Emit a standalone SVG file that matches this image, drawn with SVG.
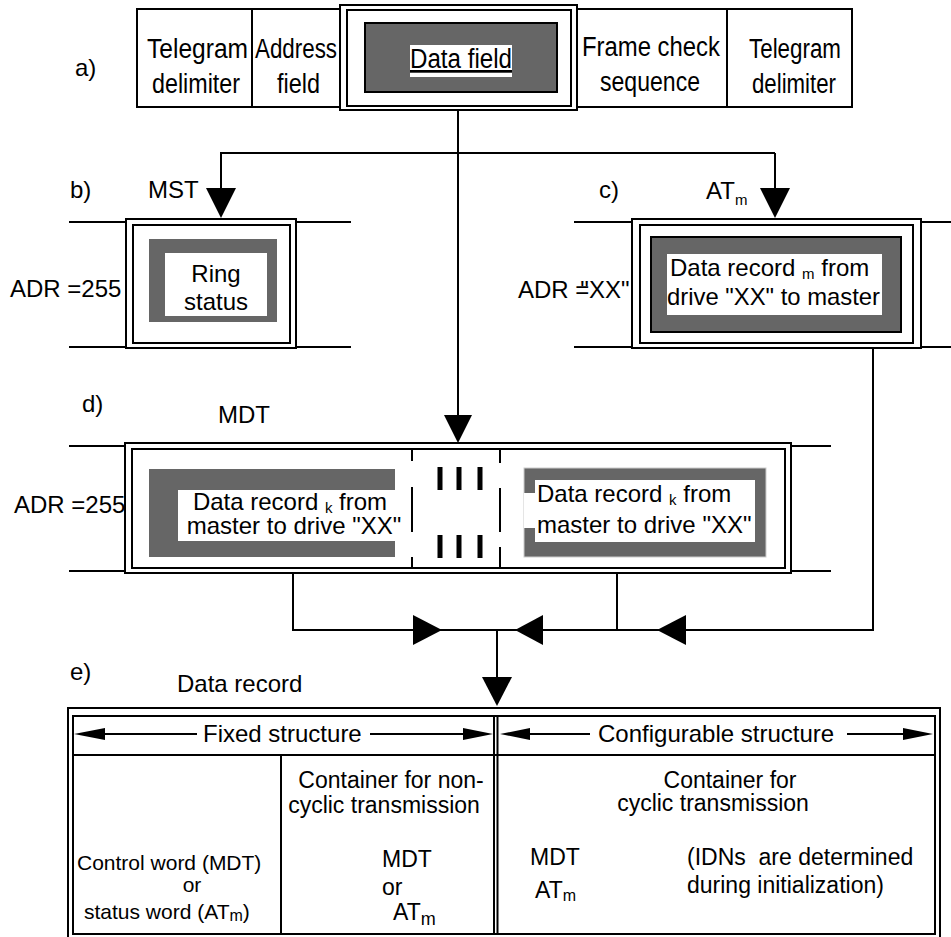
<svg xmlns="http://www.w3.org/2000/svg" width="951" height="937" viewBox="0 0 951 937">
<style>
text{font-family:"Liberation Sans",Arial,sans-serif;font-size:24px;fill:#000}
.m{text-anchor:middle}
.t{font-size:27px}
.sm{font-size:21px}
.b{font-size:23px}
.sub{font-size:15px}
.ln{stroke:#000;stroke-width:2;fill:none}
.fr{stroke:#000;stroke-width:2;fill:#fff}
.dk{fill:#666}
.wh{fill:#fff}
.ah{fill:#000}
</style>
<rect width="951" height="937" fill="#fff"/>

<g id="frameA">
<text x="75" y="76">a)</text>
<rect class="fr" x="137" y="9" width="715" height="98"/>
<line class="ln" x1="252" y1="9" x2="252" y2="107"/>
<line class="ln" x1="727" y1="9" x2="727" y2="107"/>
<text class="t" x="147" y="58" textLength="101" lengthAdjust="spacingAndGlyphs">Telegram</text>
<text class="t" x="152" y="93" textLength="88" lengthAdjust="spacingAndGlyphs">delimiter</text>
<text class="t" x="255" y="58" textLength="82" lengthAdjust="spacingAndGlyphs">Address</text>
<text class="t" x="277" y="93" textLength="43" lengthAdjust="spacingAndGlyphs">field</text>
<text class="t" x="582" y="56" textLength="138" lengthAdjust="spacingAndGlyphs">Frame check</text>
<text class="t" x="600" y="91" textLength="100" lengthAdjust="spacingAndGlyphs">sequence</text>
<text class="t" x="749" y="58" textLength="92" lengthAdjust="spacingAndGlyphs">Telegram</text>
<text class="t" x="752" y="93" textLength="84" lengthAdjust="spacingAndGlyphs">delimiter</text>
</g>
<g id="dataField">
<rect class="fr" x="340" y="5" width="237" height="105"/>
<rect class="ln" x="347" y="10" width="224" height="96"/>
<rect class="dk" x="365" y="23" width="192" height="69" stroke="#000" stroke-width="2"/>
<rect class="wh" x="410" y="45" width="102" height="32"/>
<text class="t" x="410" y="68" textLength="102" lengthAdjust="spacingAndGlyphs" text-decoration="underline">Data field</text>
</g>

<g id="frameB">
<text x="70" y="198">b)</text>
<text x="148" y="198">MST</text>
<line class="ln" x1="69" y1="222" x2="351" y2="222"/>
<line class="ln" x1="69" y1="347" x2="351" y2="347"/>
<rect class="fr" x="126" y="219" width="170" height="129"/>
<rect class="ln" x="133" y="225" width="157" height="118"/>
<rect class="dk" x="149" y="239" width="128" height="83"/>
<rect class="wh" x="165" y="253" width="102" height="63"/>
<text class="m" x="216" y="282">Ring</text>
<text class="m" x="216" y="310">status</text>
<text x="10" y="297">ADR =255</text>
</g>

<g id="frameC">
<text x="599" y="198">c)</text>
<text x="706" y="199">AT<tspan class="sub" dy="6" font-size="17">m</tspan></text>
<line class="ln" x1="574" y1="222" x2="951" y2="222"/>
<line class="ln" x1="574" y1="347" x2="951" y2="347"/>
<rect class="fr" x="632" y="219" width="289" height="129"/>
<rect class="ln" x="640" y="225" width="273" height="118"/>
<rect class="dk" x="651" y="237" width="250" height="95" stroke="#000" stroke-width="2"/>
<rect class="wh" x="667" y="254" width="215" height="61"/>
<text x="670" y="276">Data record <tspan class="sub" dy="3">m</tspan><tspan dy="-3"> from</tspan></text>
<text x="667" y="305" textLength="213" lengthAdjust="spacingAndGlyphs">drive "XX" to master</text>
<text x="518" y="298">ADR =<tspan dx="-9">"XX"</tspan></text>
</g>

<g id="frameD">
<text x="82" y="412">d)</text>
<text x="218" y="423">MDT</text>
<line class="ln" x1="69" y1="446" x2="831" y2="446"/>
<line class="ln" x1="69" y1="571" x2="831" y2="571"/>
<rect class="fr" x="125" y="443" width="666" height="130"/>
<rect class="ln" x="132" y="449" width="653" height="119"/>
<path class="ln" d="M412 449V461M412 487V532M412 557V568M500 449V463M500 488V532M500 547V568"/>
<path stroke="#000" stroke-width="5" d="M440 467V490M459 467V490M480 467V490M440 535V558M459 535V558M480 535V558"/>
<rect class="dk" x="149" y="469" width="246" height="88"/>
<rect class="wh" x="178" y="490" width="217" height="51"/>
<text class="m" x="290" y="510">Data record <tspan class="sub" dy="3">k</tspan><tspan dy="-3"> from</tspan></text>
<text class="m" x="294" y="534">master to drive "XX"</text>
<rect class="dk" x="524" y="468" width="242" height="89" stroke="#ccc" stroke-width="1"/>
<rect class="wh" x="535" y="480" width="220" height="62"/>
<rect class="wh" x="524" y="493" width="12" height="35"/>
<text x="537" y="502">Data record <tspan class="sub" dy="3">k</tspan><tspan dy="-3"> from</tspan></text>
<text x="537" y="533">master to drive "XX"</text>
<text x="14" y="513">ADR =255</text>
</g>

<g id="tableE">
<text x="70" y="680">e)</text>
<text x="177" y="692">Data record</text>
<rect class="fr" x="68" y="708" width="872" height="240"/>
<rect class="ln" x="73" y="716" width="862" height="218"/>
<line class="ln" x1="73" y1="755" x2="935" y2="755"/>
<line class="ln" x1="494" y1="716" x2="494" y2="934"/>
<line class="ln" x1="497.5" y1="716" x2="497.5" y2="934"/>
<line class="ln" x1="281" y1="755" x2="281" y2="934"/>
<line class="ln" x1="100" y1="734" x2="197" y2="734"/>
<polygon class="ah" points="74,734 105,728 105,740"/>
<text x="203" y="742">Fixed structure</text>
<line class="ln" x1="370" y1="734" x2="465" y2="734"/>
<polygon class="ah" points="493,734 463,728 463,740"/>
<line class="ln" x1="525" y1="734" x2="590" y2="734"/>
<polygon class="ah" points="500,734 530,728 530,740"/>
<text x="598" y="742">Configurable structure</text>
<line class="ln" x1="847" y1="734" x2="906" y2="734"/>
<polygon class="ah" points="933,734 903,728 903,740"/>
<text class="sm" x="77" y="870">Control word (MDT)</text>
<text class="sm m" x="192" y="892">or</text>
<text class="sm" x="84" y="919">status word (AT<tspan font-size="16" dy="2">m</tspan><tspan dy="-2">)</tspan></text>
<text class="b m" x="391" y="788">Container for non-</text>
<text class="b m" x="384" y="813">cyclic transmission</text>
<text class="b m" x="407" y="867">MDT</text>
<text class="b" x="382" y="895">or</text>
<text class="b" x="393" y="920">AT<tspan font-size="18" dy="5">m</tspan></text>
<text class="b m" x="730" y="788">Container for</text>
<text class="b m" x="713" y="811">cyclic transmission</text>
<text class="b" x="530" y="865">MDT</text>
<text class="b" x="535" y="898">AT<tspan font-size="16" dy="3">m</tspan></text>
<text class="b" x="687" y="865" xml:space="preserve">(IDNs  are determined</text>
<text class="b" x="687" y="893">during initialization)</text>
</g>

<g id="connectors">
<line class="ln" x1="458" y1="110" x2="458" y2="416"/>
<polygon class="ah" points="444,415 472,415 458,443"/>
<line class="ln" x1="220" y1="153" x2="775" y2="153"/>
<line class="ln" x1="221" y1="153" x2="221" y2="189"/>
<polygon class="ah" points="206,188 236,188 221,218"/>
<line class="ln" x1="775" y1="153" x2="775" y2="189"/>
<polygon class="ah" points="760,188 790,188 775,218"/>
<polyline class="ln" points="293,573 293,630 873,630 873,348"/>
<line class="ln" x1="617" y1="573" x2="617" y2="630"/>
<polygon class="ah" points="413,615 413,645 442,630"/>
<polygon class="ah" points="543,615 543,645 515,630"/>
<polygon class="ah" points="686,615 686,645 657,630"/>
<line class="ln" x1="497" y1="630" x2="497" y2="678"/>
<polygon class="ah" points="482,677 512,677 497,706"/>
</g>
</svg>
